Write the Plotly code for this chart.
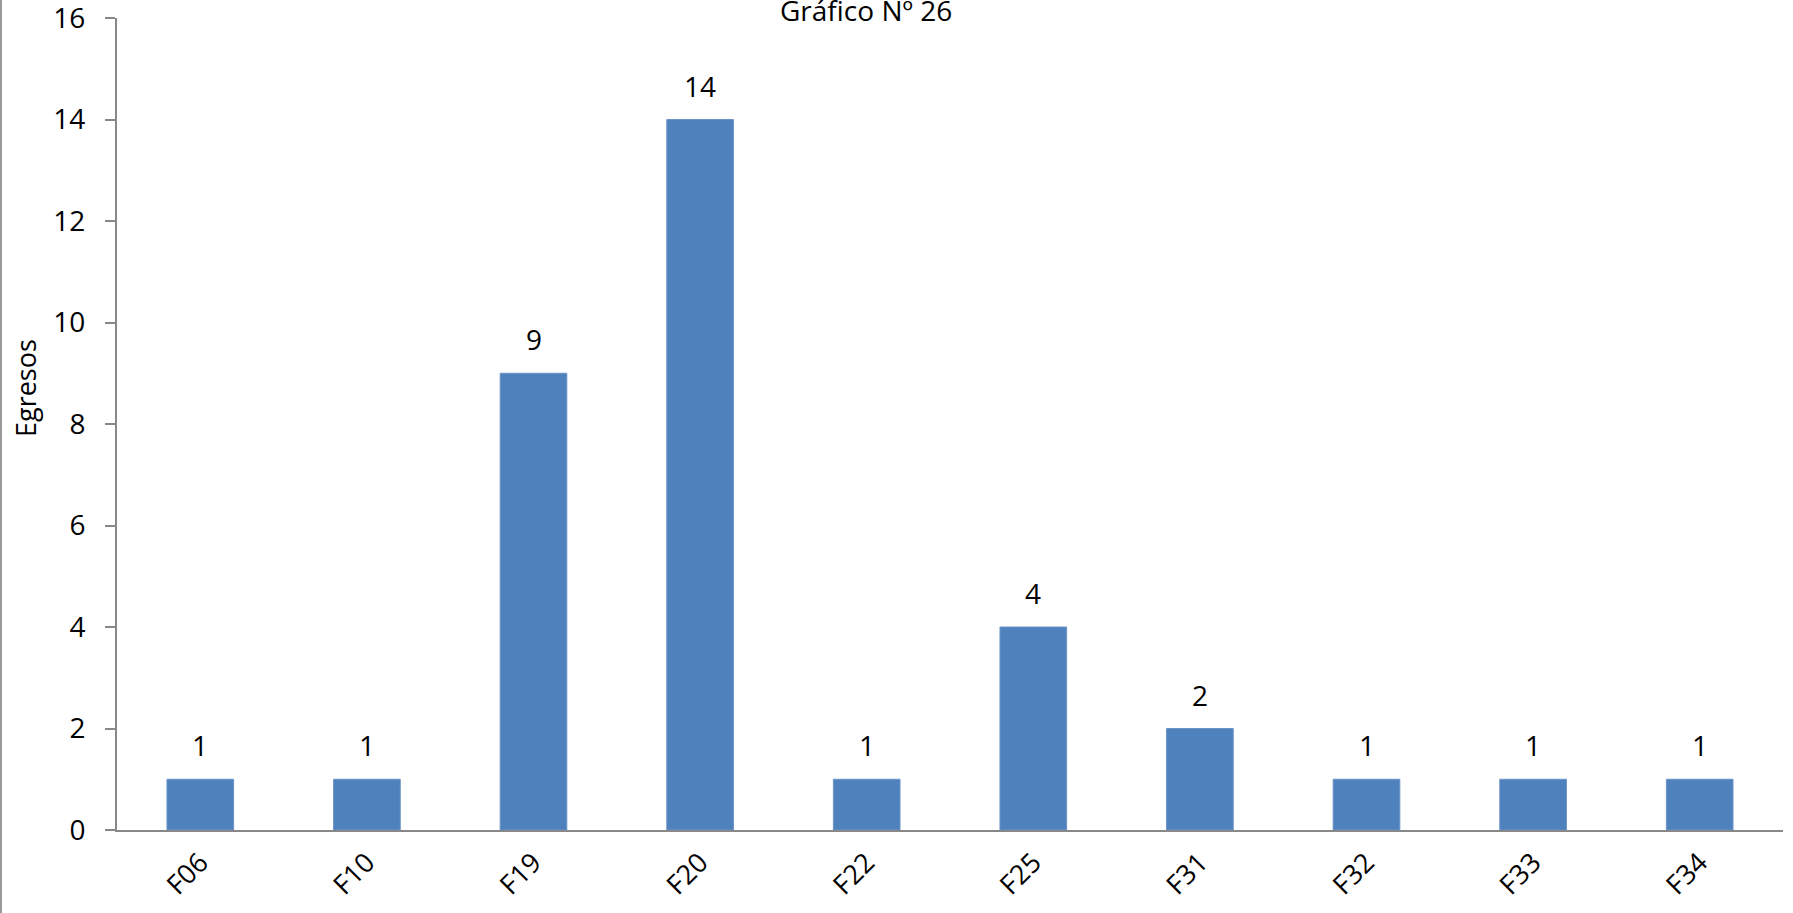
import plotly.graph_objects as go

categories = ["F06", "F10", "F19", "F20", "F22", "F25", "F31", "F32", "F33", "F34"]
egresos = [1, 1, 9, 14, 1, 4, 2, 1, 1, 1]
y_ticks = [0, 2, 4, 6, 8, 10, 12, 14, 16]
title_text = "Gráfico Nº 26"
y_title = "Egresos"

FONT = "Open Sans"
AXIS_COLOR = "#888888"
BAR_COLOR = "#4F81BD"

L, R, T, B = 117, 10, 18, 83
W, H = 1793, 913
plot_w = W - L - R
plot_h = H - T - B

fig = go.Figure()
fig.add_trace(go.Bar(
    x=categories, y=egresos,
    marker=dict(color=BAR_COLOR, line=dict(color="#6a93c8", width=1)),
    width=0.4,
    hoverinfo="x+y",
))

for c, v in zip(categories, egresos):
    fig.add_annotation(x=c, y=v, text=str(v), showarrow=False,
                       yanchor="bottom", yshift=13,
                       font=dict(family=FONT, size=28, color="#000000"))

fig.add_annotation(xref="paper", yref="paper", x=(866 - L) / plot_w,
                   y=1 + (T - 10) / plot_h, yanchor="middle", xanchor="center",
                   showarrow=False,
                   text=title_text, font=dict(family=FONT, size=28, color="#000000"))

fig.add_annotation(xref="paper", yref="paper", x=(25 - L) / plot_w,
                   y=(830 - 388) / plot_h, textangle=-90,
                   xanchor="center", yanchor="middle", showarrow=False,
                   text=y_title, font=dict(family=FONT, size=27, color="#000000"))

fig.add_shape(type="line", xref="paper", yref="paper",
              x0=(1 - L) / plot_w, x1=(1 - L) / plot_w, y0=-B / plot_h, y1=1 + T / plot_h,
              line=dict(color="#9a9a9a", width=2))

fig.update_layout(
    width=W, height=H,
    margin=dict(l=L, r=R, t=T, b=B, pad=0, autoexpand=False),
    paper_bgcolor="white", plot_bgcolor="white",
    showlegend=False,
    bargap=0.6,
    font=dict(family=FONT, size=28, color="#000000"),
    xaxis=dict(
        showline=True, linecolor=AXIS_COLOR, linewidth=2,
        ticks="", tickangle=-45, showgrid=False, automargin=False,
        tickfont=dict(family=FONT, size=27, color="#000000"),
        ticklabelstandoff=4, ticklabeloverflow="allow",
    ),
    yaxis=dict(
        range=[0, 16.001], tickvals=y_ticks, showgrid=False, zeroline=False,
        showline=True, linecolor=AXIS_COLOR, linewidth=2, automargin=False,
        ticks="outside", ticklen=10, tickcolor=AXIS_COLOR, tickwidth=2,
        tickfont=dict(family=FONT, size=28, color="#000000"),
        ticklabelstandoff=14, ticklabeloverflow="allow",
    ),
)

fig.write_html("out.html", config={"displayModeBar": False},
               post_script="document.body.style.margin='0';")
